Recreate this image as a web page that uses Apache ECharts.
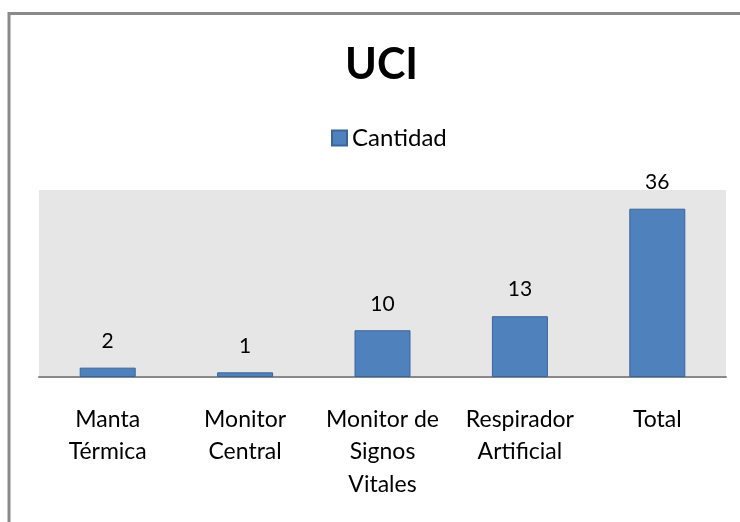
<!DOCTYPE html>
<html>
<head>
<meta charset="utf-8">
<script src="https://cdn.jsdelivr.net/npm/echarts@6/dist/echarts.min.js"></script>
<style>
    html, body { margin: 0; padding: 0; background: #fff; }
    #main { width: 740px; height: 522px; }
</style>
</head>
<body>
<div id="main"></div>
<script>
    // datos del grafico
    const categorias = ['Manta\nTérmica', 'Monitor\nCentral', 'Monitor de\nSignos\nVitales', 'Respirador\nArtificial', 'Total'];
    const cantidad = [2, 1, 10, 13, 36];

    let myEchart = echarts.init(document.getElementById('main'));

    let option = {
        backgroundColor: '#fff',
        animation: false,
        textStyle: { fontFamily: 'Lato' },
        title: {
            text: 'UCI',
            left: 340,
            top: 39,
            textStyle: { fontSize: 43, fontWeight: 'bold', color: '#000', fontFamily: 'Lato' }
        },
        legend: {
            data: ['Cantidad'],
            top: 121,
            left: 326,
            itemWidth: 15,
            itemHeight: 15,
            itemGap: 6,
            icon: 'rect',
            textStyle: { fontSize: 24, color: '#000', fontFamily: 'Lato' }
        },
        graphic: [{
            type: 'rect',
            shape: { x: 9, y: 13.5, width: 800, height: 600 },
            style: { fill: 'none', stroke: '#8a8a8a', lineWidth: 3 },
            silent: true
        }],
        grid: {
            left: 39,
            top: 190,
            width: 687,
            height: 187,
            show: true,
            backgroundColor: '#e6e6e6',
            borderWidth: 0
        },
        xAxis: {
            type: 'category',
            data: categorias,
            axisLine: { lineStyle: { color: '#888', width: 2 } },
            axisTick: { show: false },
            axisLabel: {
                interval: 0,
                margin: 26,
                fontSize: 23,
                lineHeight: 32.5,
                color: '#000',
                fontFamily: 'Lato'
            }
        },
        yAxis: {
            type: 'value',
            min: 0,
            max: 40,
            show: false,
            splitLine: { show: false }
        },
        series: [{
            name: 'Cantidad',
            type: 'bar',
            data: cantidad,
            barWidth: 56,
            itemStyle: { color: '#4f81bd', borderColor: '#3a6598', borderWidth: 1 },
            label: {
                show: true,
                position: 'top',
                distance: 16,
                fontSize: 21,
                color: '#000',
                fontFamily: 'Lato'
            }
        }]
    };
    myEchart.setOption(option);
</script>
</body>
</html>
